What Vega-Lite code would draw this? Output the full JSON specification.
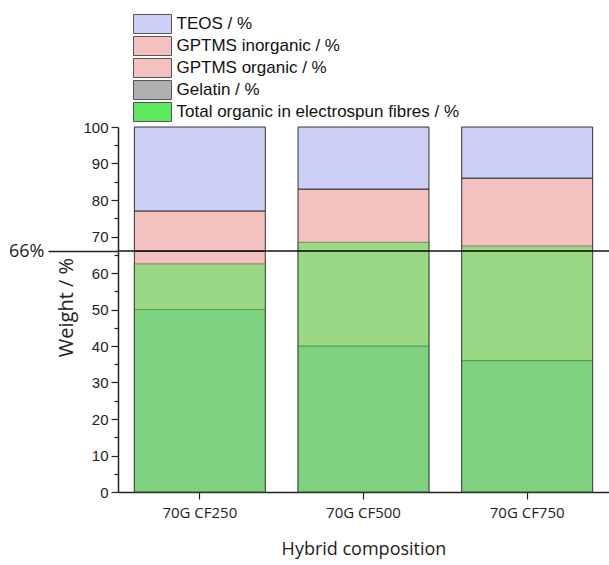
{
  "$schema": "https://vega.github.io/schema/vega-lite/v6.json",
  "width": 491,
  "height": 365,
  "autosize": {"type": "none"},
  "padding": {"left": 118, "top": 127, "right": 0, "bottom": 73},
  "background": "white",
  "config": {"view": {"stroke": null}},
  "resolve": {"axis": {"x": "independent", "y": "independent"}},
  "datasets": {
    "components": [
      {"sample": "70G CF250", "component": "Gelatin / %", "weight": 50},
      {"sample": "70G CF250", "component": "GPTMS organic / %", "weight": 16},
      {"sample": "70G CF250", "component": "GPTMS inorganic / %", "weight": 11},
      {"sample": "70G CF250", "component": "TEOS / %", "weight": 23},
      {"sample": "70G CF500", "component": "Gelatin / %", "weight": 40},
      {"sample": "70G CF500", "component": "GPTMS organic / %", "weight": 26},
      {"sample": "70G CF500", "component": "GPTMS inorganic / %", "weight": 17},
      {"sample": "70G CF500", "component": "TEOS / %", "weight": 17},
      {"sample": "70G CF750", "component": "Gelatin / %", "weight": 36},
      {"sample": "70G CF750", "component": "GPTMS organic / %", "weight": 30},
      {"sample": "70G CF750", "component": "GPTMS inorganic / %", "weight": 20},
      {"sample": "70G CF750", "component": "TEOS / %", "weight": 14}
    ],
    "totals": [
      {"sample": "70G CF250", "component": "Total organic in electrospun fibres / %", "weight": 62.5},
      {"sample": "70G CF500", "component": "Total organic in electrospun fibres / %", "weight": 68.4},
      {"sample": "70G CF750", "component": "Total organic in electrospun fibres / %", "weight": 67.4}
    ],
    "ref": [{"level": 66}]
  },
  "layer": [
    {
      "data": {"name": "components"},
      "transform": [
        {"calculate": "indexof(['Gelatin / %','GPTMS organic / %','GPTMS inorganic / %','TEOS / %'], datum.component)", "as": "stackOrder"}
      ],
      "mark": {"type": "bar", "stroke": "#333333", "strokeWidth": 1},
      "encoding": {
        "x": {
          "field": "sample", "type": "nominal",
          "scale": {"paddingInner": 0.2, "paddingOuter": 0.1},
          "axis": {
            "title": "Hybrid composition", "labelAngle": 0, "labelFontSize": 15, "labelFont": "Open Sans",
            "labelColor": "#222222", "labelPadding": 6, "tickSize": 7, "tickColor": "#222222", "tickWidth": 1.2,
            "domainColor": "#222222", "domainWidth": 1.5,
            "titleFontSize": 18, "titleFont": "Open Sans", "titleFontWeight": "normal", "titleColor": "#222222", "titlePadding": 20
          }
        },
        "y": {
          "field": "weight", "type": "quantitative", "stack": "zero",
          "scale": {"domain": [0, 100], "nice": false},
          "axis": {
            "title": "Weight  / %",
            "values": [0, 5, 10, 15, 20, 25, 30, 35, 40, 45, 50, 55, 60, 65, 70, 75, 80, 85, 90, 95, 100, 66],
            "labelExpr": "datum.value == 66 ? '66%' : (datum.value % 10 == 0 ? datum.label : '')",
            "labelOverlap": false,
            "labelFontSize": {"condition": {"test": "datum.value == 66", "value": 18}, "value": 15},
            "labelFont": {"condition": {"test": "datum.value == 66", "value": "Open Sans"}, "value": "Liberation Sans"},
            "labelPadding": {"condition": {"test": "datum.value == 66", "value": 4}, "value": 3},
            "labelColor": "#222222",
            "tickSize": {"condition": [{"test": "datum.value == 66", "value": 70}, {"test": "datum.value % 10 == 0", "value": 7}], "value": 4},
            "tickWidth": {"condition": {"test": "datum.value == 66", "value": 1.5}, "value": 1.2},
            "tickColor": "#222222",
            "domainColor": "#222222", "domainWidth": 1.5,
            "grid": false,
            "titleFontSize": 20, "titleFont": "Open Sans", "titleFontWeight": "normal", "titleColor": "#222222",
            "titleX": -42, "titleY": 180
          }
        },
        "color": {
          "field": "component", "type": "nominal",
          "scale": {
            "domain": ["TEOS / %", "GPTMS inorganic / %", "GPTMS organic / %", "Gelatin / %", "Total organic in electrospun fibres / %"],
            "range": ["#cdcff6", "#f5c0c0", "#f5c0c0", "#b0b0b0", "#5ee85e"]
          },
          "legend": {
            "orient": "none", "legendX": 15, "legendY": -113, "direction": "vertical", "title": null,
            "symbolType": "M-2,-1H2V1H-2Z", "symbolSize": 361, "symbolStrokeColor": "#555555", "symbolStrokeWidth": 1,
            "symbolOpacity": 1, "symbolOffset": 9.5, "labelOffset": 14,
            "labelFontSize": 17, "labelFont": "Liberation Sans", "labelColor": "#111111", "labelLimit": 0,
            "rowPadding": -4, "padding": 0,
            "encode": {"symbols": {"update": {"opacity": {"value": 1}, "fillOpacity": {"value": 1}}}}
          }
        },
        "order": {"field": "stackOrder", "type": "quantitative", "sort": "ascending"}
      }
    },
    {
      "data": {"name": "totals"},
      "mark": {"type": "bar", "opacity": 0.6, "stroke": "#2f5f2f", "strokeWidth": 1},
      "encoding": {
        "x": {"field": "sample", "type": "nominal", "axis": null},
        "y": {"field": "weight", "type": "quantitative", "axis": null},
        "color": {"field": "component", "type": "nominal"}
      }
    },
    {
      "data": {"name": "ref"},
      "mark": {"type": "rule", "color": "#111111", "strokeWidth": 1.5},
      "encoding": {
        "y": {"field": "level", "type": "quantitative", "axis": null}
      }
    }
  ]
}
